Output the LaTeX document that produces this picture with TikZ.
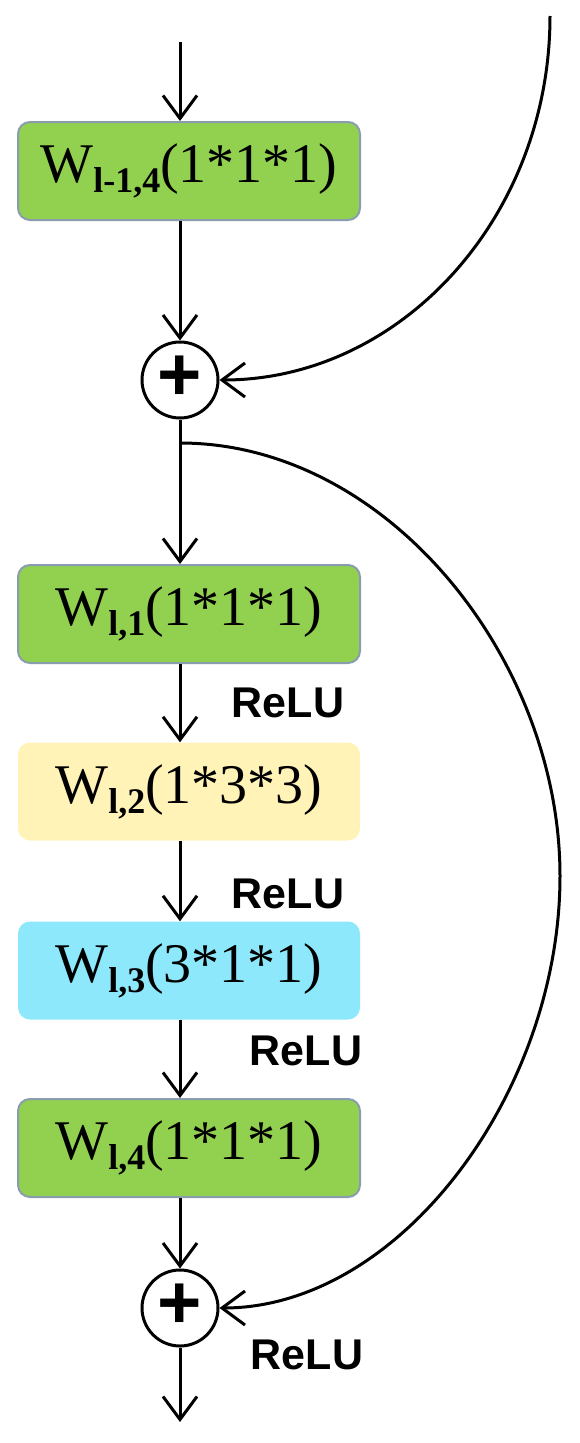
\documentclass[tikz,border=0pt]{standalone}
\usepackage{fontspec}
\setmainfont{Liberation Serif}
\newfontfamily\relufont{Liberation Sans}
\usetikzlibrary{arrows.meta}
\definecolor{boxgreen}{HTML}{92D050}
\definecolor{boxyellow}{HTML}{FFF3B8}
\definecolor{boxcyan}{HTML}{8DE8FB}
\definecolor{boxedge}{HTML}{8A9DAF}
\newcommand\lsub[1]{\raisebox{-10pt}{\fontsize{36}{36}\selectfont\bfseries #1}}
\tikzset{
  flow/.style={line width=3pt, -{Straight Barb[length=23pt,width=34pt,line width=3pt]}},
  layer/.style={rounded corners=12pt, minimum width=342pt, minimum height=98pt, inner sep=0pt, font=\fontsize{56}{60}\selectfont},
  greenlayer/.style={layer, fill=boxgreen, draw=boxedge, line width=2pt},
  yellowlayer/.style={layer, fill=boxyellow},
  cyanlayer/.style={layer, fill=boxcyan},
  sumnode/.style={circle, draw, line width=3pt, minimum size=76pt, inner sep=0pt, font=\relufont\bfseries\fontsize{76}{76}\selectfont},
  relu/.style={font=\relufont\bfseries\fontsize{43}{45}\selectfont, inner sep=0pt}
}
\begin{document}
\begin{tikzpicture}[x=1pt,y=-1pt]
\useasboundingbox (0,0) rectangle (579,1443);
\coordinate (in) at (180,42);
\node[greenlayer] (b0) at (189,171) {W\lsub{l-1,4}(1*1*1)};
\node[sumnode] (s1) at (180,380) {\raisebox{3pt}{+}};
\coordinate (top) at (550,16);
\coordinate (br) at (180,443);
\node[greenlayer] (b1) at (189,614) {W\lsub{l,1}(1*1*1)};
\node[relu] (r1) at (288,703) {ReLU};
\node[yellowlayer] (b2) at (189,791.5) {W\lsub{l,2}(1*3*3)};
\node[relu] (r2) at (288,894) {ReLU};
\node[cyanlayer] (b3) at (189,970.5) {W\lsub{l,3}(3*1*1)};
\node[relu] (r3) at (306,1051) {ReLU};
\node[greenlayer] (b4) at (189,1148) {W\lsub{l,4}(1*1*1)};
\node[sumnode] (s2) at (180,1308) {\raisebox{3pt}{+}};
\node[relu] (r4) at (307,1355) {ReLU};
\coordinate (out) at (180,1422);

\draw[flow] (in) -- (in |- b0.north);
\draw[flow] (b0.south -| s1) -- (s1.north);
\draw[flow] (top) .. controls (550,217) and (401,380) .. (s1.east);
\draw[flow] (s1.south) -- (s1 |- b1.north);
\draw[flow] (b1.south -| s1) -- (b2.north -| s1);
\draw[flow] (b2.south -| s1) -- (b3.north -| s1);
\draw[flow] (b3.south -| s1) -- (b4.north -| s1);
\draw[flow] (b4.south -| s2) -- (s2.north);
\draw[flow] (br) .. controls (388,443) and (560,660) .. (560,876) .. controls (560,1092) and (400,1308) .. (s2.east);
\draw[flow] (s2.south) -- (out);
\end{tikzpicture}
\end{document}
